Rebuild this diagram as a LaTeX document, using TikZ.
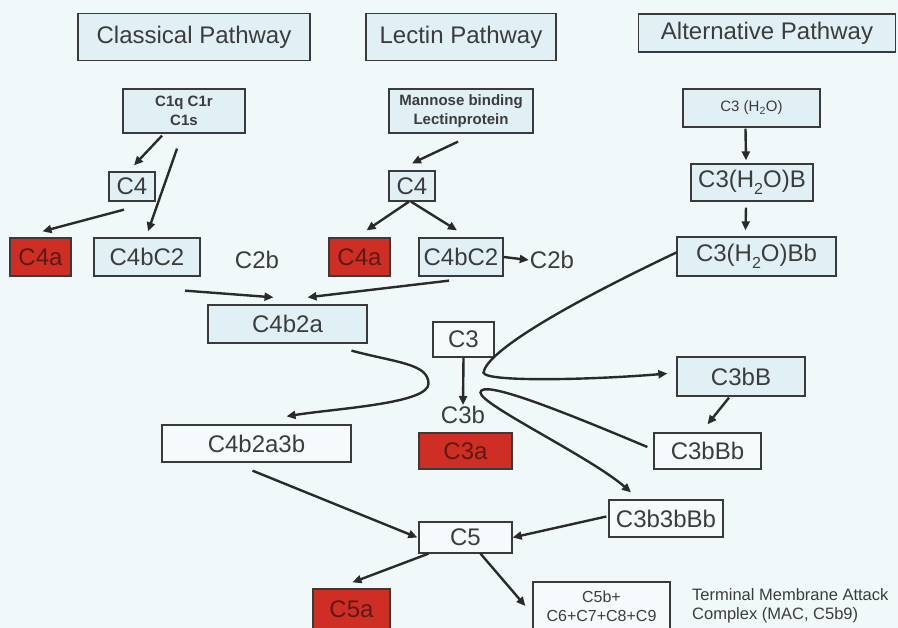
\documentclass[tikz,border=0pt]{standalone}
\usepackage{fontspec}
\setmainfont{Liberation Sans}
\usetikzlibrary{arrows.meta,calc}
\definecolor{bgc}{HTML}{F0F8FA}
\definecolor{boxf}{HTML}{E0F0F5}
\definecolor{boxw}{HTML}{F5FBFC}
\definecolor{edgec}{HTML}{3A3A3A}
\definecolor{txtc}{HTML}{3C3C3C}
\definecolor{arrc}{HTML}{2A2A2A}
\definecolor{redf}{HTML}{CF2E24}
\definecolor{redt}{HTML}{5C1A14}
\newcommand{\lowtwo}{\raisebox{-0.28em}{\fontsize{16}{16}\selectfont 2}}
\tikzset{
  box/.style={draw=edgec, line width=1.3pt, fill=boxf, inner sep=0pt, text=txtc, font=\fontsize{24}{28}\selectfont},
  wbox/.style={box, fill=boxw},
  rbox/.style={box, fill=redf, text=redt},
  lab/.style={text=txtc, inner sep=1pt, font=\fontsize{24}{28}\selectfont},
  small/.style={font=\fontsize{15}{19}\selectfont},
  smallb/.style={font=\bfseries\fontsize{15}{19}\selectfont},
  arr/.style={draw=arrc, line width=2.4pt, -{Triangle[length=9pt,width=8pt]}}
}
\begin{document}
\begin{tikzpicture}[x=1pt,y=-1pt]
\fill[bgc] (0,0) rectangle (898,628);
\useasboundingbox (0,0) rectangle (898,628);
% headers
\node[box, minimum width=232, minimum height=47] (cp) at (194,37) {Classical Pathway};
\node[box, minimum width=190, minimum height=47] (lp) at (461,37) {Lectin Pathway};
\node[box, minimum width=257, minimum height=38] (ap) at (767,33) {Alternative Pathway};
% sources
\node[box, smallb, minimum width=122, minimum height=44, align=center] (c1) at (184,111) {C1q C1r\\C1s};
\node[box, smallb, minimum width=144, minimum height=44, align=center] (mbl) at (461,111) {Mannose binding\\Lectinprotein};
\node[box, small, minimum width=137, minimum height=38] (c3h) at (751.5,108) {C3 (H\textsubscript{2}O)};
% C4 row
\node[box, minimum width=46, minimum height=29] (c4) at (132,186.5) {C4};
\node[box, minimum width=46, minimum height=30] (c4l) at (412,186) {C4};
\node[box, minimum width=122, minimum height=37] (c3hb) at (752,182.5) {C3(H\lowtwo O)B};
% C4a row
\node[rbox, minimum width=61, minimum height=38] (c4a) at (40.5,257) {C4a};
\node[box, minimum width=106, minimum height=38] (c4bc2) at (147,257) {C4bC2};
\node[lab] (c2b) at (257,260) {C2b};
\node[rbox, minimum width=61, minimum height=38] (c4al) at (359.5,257) {C4a};
\node[box, minimum width=84, minimum height=38] (c4bc2l) at (461,257) {C4bC2};
\node[lab] (c2bl) at (552,260) {C2b};
\node[box, minimum width=159, minimum height=39] (c3hbb) at (756.5,256.5) {C3(H\lowtwo O)Bb};
% middle
\node[box, minimum width=159, minimum height=38] (c4b2a) at (287.5,324) {C4b2a};
\node[wbox, minimum width=61, minimum height=35] (c3) at (463.5,339.5) {C3};
\node[box, minimum width=128, minimum height=39] (c3bb) at (741,376.5) {C3bB};
\node[lab] (c3b) at (463,415) {C3b};
\node[rbox, minimum width=93, minimum height=36] (c3a) at (465.5,451) {C3a};
\node[wbox, minimum width=189, minimum height=37] (c4b2a3b) at (256.5,443.5) {C4b2a3b};
\node[wbox, minimum width=107, minimum height=36] (c3bbb) at (707.5,451) {C3bBb};
\node[wbox, minimum width=114, minimum height=37] (c3b3bbb) at (666,518.5) {C3b3bBb};
\node[wbox, minimum width=93, minimum height=31] (c5) at (465.5,537.5) {C5};
\node[rbox, minimum width=77, minimum height=40] (c5a) at (351.5,609) {C5a};
\node[wbox, font=\fontsize{16}{19}\selectfont, minimum width=137, minimum height=48, align=center] (c5b) at (601.5,606) {C5b+\\C6+C7+C8+C9};
\node[text=txtc, inner sep=0pt, anchor=west, align=left, font=\fontsize{16.5}{19}\selectfont] (mac) at (692,606) {Terminal Membrane Attack\\Complex (MAC, C5b9)};
% classical arrows
\draw[arr] ($(c1.south)+(-22,2)$) -- ($(c4.north)+(2,-6)$);
\draw[arr] ($(c1.south)+(-7,15)$) -- ($(c4bc2.north)+(1,-6)$);
\draw[arr] ($(c4.south)+(-8,8)$) -- ($(c4a.north)+(2,-6)$);
% lectin arrows
\draw[arr] ($(mbl.south)+(-3,8)$) -- ($(c4l.north)+(0,-7)$);
\draw[arr] ($(c4l.south)+(-3,0)$) -- ($(c4al.north)+(7,-7)$);
\draw[arr] ($(c4l.south)+(-1,0)$) -- ($(c4bc2l.north)+(-4,-7)$);
\draw[arr] (c4bc2l.east) -- (c2bl.west);
% alternative arrows
\draw[arr] ($(c3h.south)+(-6,1)$) -- ($(c3hb.north)+(-6,-3)$);
\draw[arr] ($(c3hb.south)+(-6,6)$) -- ($(c3hbb.north)+(-11,-6)$);
% to C4b2a
\draw[arr] ($(c4bc2.south)+(38,14)$) -- ($(c4b2a.north)+(-14,-7)$);
\draw[arr] ($(c4bc2l.south)+(-12,4)$) -- ($(c4b2a.north)+(20,-7)$);
% C4b2a -> C4b2a3b
\draw[arr] ($(c4b2a.south)+(64,7)$) .. controls +(45,12) and +(0,-20) .. ($(c4b2a.south)+(141,40)$)
  .. controls +(0,20) and +(50,-8) .. ($(c4b2a3b.north)+(30,-8)$);
% C3 -> C3b
\draw[arr] (c3.south) -- (c3b.north);
% hairpin A
\draw[arr] ($(c3hbb.west)+(0,-4)$) .. controls +(-120,57) and +(3,-20) .. ($(c3.south)+(20,15)$)
  .. controls +(2,10) and +(-70,6) .. ($(c3bb.west)+(-9,-3)$);
% hairpin B
\draw[arr] ($(c3bbb.west)+(-6,-4)$) .. controls +(-88,-37) and +(0,-14) .. ($(c3.south)+(17,35)$)
  .. controls +(0,12) and +(-40,-35) .. ($(c3b3bbb.north)+(-35,-7)$);
% C3bB -> C3bBb
\draw[arr] ($(c3bb.south)+(-12,1)$) -- ($(c3bbb.north)+(0,-8)$);
% to C5
\draw[arr] ($(c4b2a3b.south)+(-4,8)$) -- ($(c5.west)+(-1,0)$);
\draw[arr] ($(c3b3bbb.west)+(-2,-2)$) -- (c5.east);
\draw[arr] ($(c5.south)+(-37,0)$) -- ($(c5a.north)+(1,-6)$);
\draw[arr] ($(c5.south)+(15,0)$) -- ($(c5b.west)+(-7,0)$);
\end{tikzpicture}
\end{document}
